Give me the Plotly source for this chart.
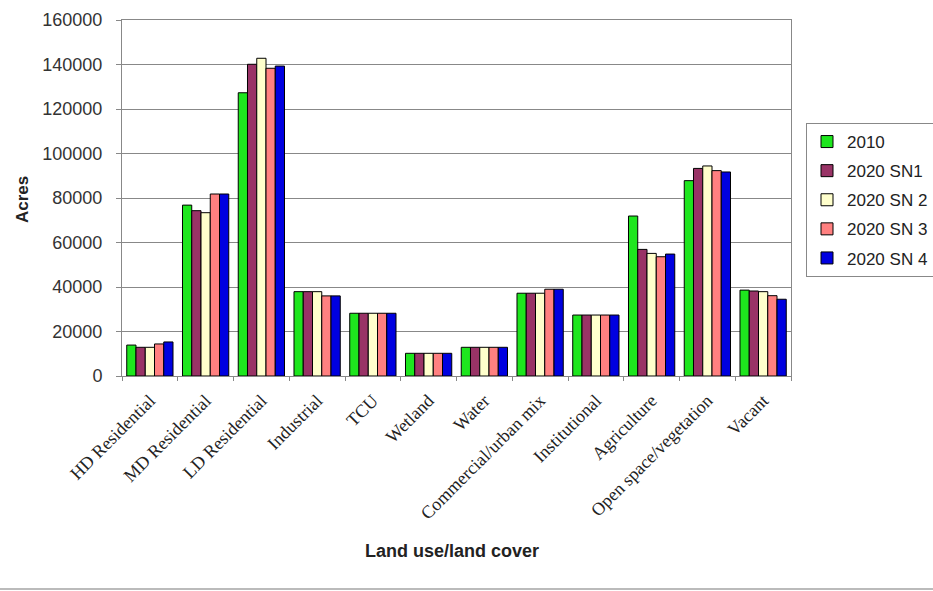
import plotly.graph_objects as go

categories = ["HD Residential", "MD Residential", "LD Residential", "Industrial", "TCU",
              "Wetland", "Water", "Commercial/urban mix", "Institutional", "Agriculture",
              "Open space/vegetation", "Vacant"]
series_names = ["2010", "2020 SN1", "2020 SN 2", "2020 SN 3", "2020 SN 4"]
v2010 = [13900, 76800, 127300, 37900, 28200, 10200, 12900, 37200, 27400, 71900, 87800, 38600]
sn1 = [12900, 74300, 140100, 37900, 28200, 10200, 12900, 37200, 27400, 56900, 93300, 38200]
sn2 = [12900, 73400, 142800, 37900, 28200, 10200, 12900, 37200, 27400, 55100, 94400, 37900]
sn3 = [14400, 81800, 138300, 36000, 28200, 10200, 12900, 39000, 27400, 53600, 92300, 36100]
sn4 = [15300, 81800, 139300, 36000, 28200, 10200, 12900, 39000, 27400, 54800, 91700, 34500]
y_ticks = [0, 20000, 40000, 60000, 80000, 100000, 120000, 140000, 160000]
colors = ["#1EE61E", "#993366", "#FFFFCC", "#FF8080", "#0000E0"]

W, H = 933, 591
L, R, T, B = 122, 142, 20, 215
pw = W - L - R
ph = H - T - B


def px2paper(x, y):
    return (x - L) / pw, (H - B - y) / ph


fig = go.Figure()
for name, vals, col in zip(series_names, [v2010, sn1, sn2, sn3, sn4], colors):
    fig.add_trace(go.Bar(x=categories, y=vals, name=name, legendgroup=name,
                         marker=dict(color=col, line=dict(color="black", width=1))))

lx, ly = px2paper(806, 123)
ax1, ay1 = px2paper(22, 200)
ax2, ay2 = px2paper(452, 551)
fig.update_layout(
    width=W, height=H,
    margin=dict(l=L, r=R, t=T, b=B, autoexpand=False),
    paper_bgcolor="white", plot_bgcolor="white",
    barmode="group", bargap=0.17, bargroupgap=0,
    font=dict(family="Liberation Sans, Arial", color="#222"),
    xaxis=dict(tickangle=-45, tickfont=dict(family="Liberation Serif, Times New Roman", size=18, color="#222"),
               ticks="outside", tickson="boundaries", ticklen=4, tickcolor="#888",
               ticklabelstandoff=6,
               showline=True, linecolor="#888", mirror=True, showgrid=False, automargin=False),
    yaxis=dict(range=[0, 160000], tickvals=y_ticks, ticktext=[str(t) for t in y_ticks],
               tickfont=dict(size=18, color="#333"), ticks="outside", ticklen=5, tickcolor="#888",
               ticklabelstandoff=10,
               showgrid=True, gridcolor="#888", gridwidth=1, showline=True, linecolor="#888",
               mirror=True, zeroline=False, automargin=False),
    legend=dict(x=lx, y=ly, xanchor="left", yanchor="top", font=dict(size=17, color="#222"),
                bordercolor="#888", borderwidth=1, bgcolor="white", tracegroupgap=4,
                itemwidth=30),
    showlegend=True,
    annotations=[
        dict(text="<b>Acres</b>", x=ax1, y=ay1, xref="paper", yref="paper", showarrow=False,
             xanchor="center", yanchor="middle",
             textangle=-90, font=dict(size=17, color="#222")),
        dict(text="<b>Land use/land cover</b>", x=ax2, y=ay2, xref="paper", yref="paper",
             xanchor="center", yanchor="middle",
             showarrow=False, font=dict(size=18, color="#222")),
    ],
)
fig.add_shape(type="line", xref="paper", yref="paper", x0=px2paper(0, 0)[0], x1=px2paper(W, 0)[0],
              y0=px2paper(0, 589)[1], y1=px2paper(0, 589)[1], line=dict(color="#BBB", width=2))
fig.write_html("out.html")
